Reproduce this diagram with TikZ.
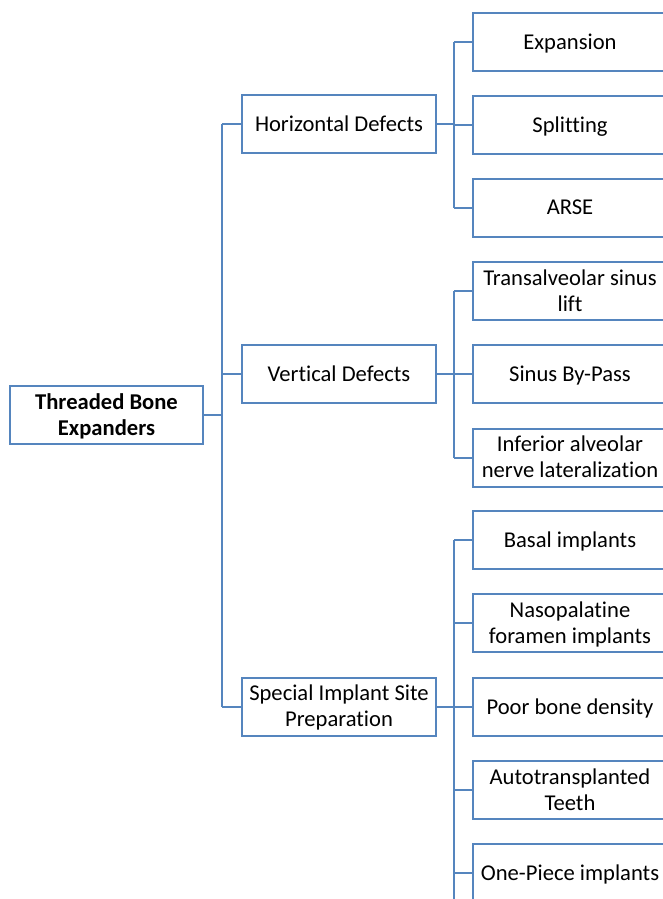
\documentclass[tikz,border=0pt]{standalone}
\usepackage{fontspec}
\setmainfont[Ligatures=NoCommon]{Carlito}
\definecolor{edge}{HTML}{5585BE}
\begin{document}
\begin{tikzpicture}[x=1pt,y=-1pt,
  box/.style={draw=edge,line width=2pt,rectangle,fill=white,minimum height=58pt,inner sep=2pt,align=center,text depth=1.5pt,font=\fontsize{22.6}{26}\selectfont},
  rootbox/.style={box,minimum width=193pt,font=\fontsize{22.6}{26}\selectfont\bfseries},
  midbox/.style={box,minimum width=194pt},
  leafbox/.style={box,minimum width=194pt},
  link/.style={draw=edge,line width=2pt}]
\useasboundingbox (0,0) rectangle (663,899);
\clip (0,0) rectangle (663,899);
\fill[white] (0,0) rectangle (663,899);
% root
\node[rootbox] (root) at (106.5,415) {Threaded Bone\\Expanders};
% mid
\node[midbox] (hd) at (339,124) {Horizontal Defects};
\node[midbox] (vd) at (339,374) {Vertical Defects};
\node[midbox] (sp) at (339,706.5) {Special Implant Site\\Preparation};
% leaves
\node[leafbox] (ex) at (570,42) {Expansion};
\node[leafbox] (sl) at (570,125) {Splitting};
\node[leafbox] (ar) at (570,208) {ARSE};
\node[leafbox] (ts) at (570,291) {Transalveolar sinus\\lift};
\node[leafbox] (sb) at (570,374) {Sinus By-Pass};
\node[leafbox] (ia) at (570,457.5) {Inferior alveolar\\nerve lateralization};
\node[leafbox] (bi) at (570,540) {Basal implants};
\node[leafbox] (np) at (570,623) {Nasopalatine\\foramen implants};
\node[leafbox] (pb) at (570,707) {Poor bone density};
\node[leafbox] (at) at (570,790) {Autotransplanted\\Teeth};
\node[leafbox] (op) at (570,873) {One-Piece implants};
% trunk from root
\coordinate (t0) at (222,415);
\draw[link] (root.east) -- (t0);
\draw[link] (t0 |- hd.west) -- (t0 |- sp.west);
\foreach \m in {hd,vd,sp} \draw[link] (t0 |- \m.west) -- (\m.west);
% second level trunks
\coordinate (t1) at (454,0);
\draw[link] (hd.east) -- (t1 |- hd.east);
\draw[link] (t1 |- ex.west) -- (t1 |- ar.west);
\foreach \l in {ex,sl,ar} \draw[link] (t1 |- \l.west) -- (\l.west);
\draw[link] (vd.east) -- (t1 |- vd.east);
\draw[link] (t1 |- ts.west) -- (t1 |- ia.west);
\foreach \l in {ts,sb,ia} \draw[link] (t1 |- \l.west) -- (\l.west);
\draw[link] (sp.east) -- (t1 |- sp.east);
\coordinate (bot) at (454,905);
\draw[link] (t1 |- bi.west) -- (bot);
\foreach \l in {bi,np,pb,at,op} \draw[link] (t1 |- \l.west) -- (\l.west);
\end{tikzpicture}
\end{document}
